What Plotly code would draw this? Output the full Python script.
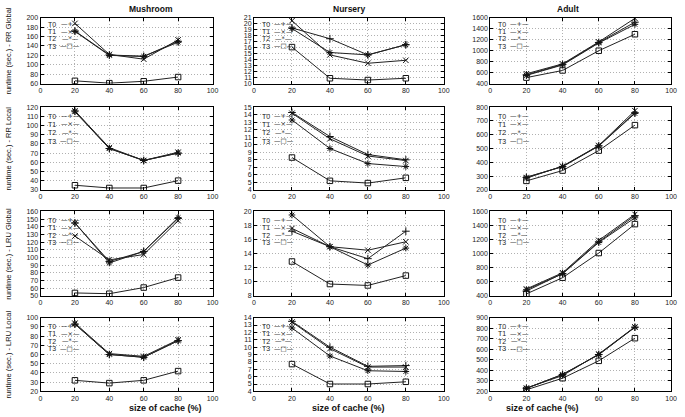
import plotly.graph_objects as go

# cache size (% of data) on every x axis
cache_size = [20, 40, 60, 80]
series_names = ["T0", "T1", "T2", "T3"]
dataset_names = ["Mushroom", "Nursery", "Adult"]
row_titles = ["runtime (sec.) - RR Global", "runtime (sec.) - RR Local",
              "runtime (sec.) - LRU Global", "runtime (sec.) - LRU Local"]

# runtimes, one list per series T0..T3
mushroom_rr_global = [[172, 121, 118, 150], [188, 122, 112, 153],
                      [171, 120, 118, 148], [66, 61, 65, 74]]
nursery_rr_global = [[19.3, 17.5, 14.8, 16.5], [20.5, 14.8, 13.4, 13.9],
                     [19.2, 15.2, 14.8, 16.5], [16.1, 10.9, 10.6, 10.9]]
adult_rr_global = [[560, 750, 1150, 1520], [580, 760, 1160, 1590],
                   [550, 740, 1140, 1480], [510, 640, 1000, 1300]]

mushroom_rr_local = [[116, 75, 62, 70], [116, 76, 62, 71],
                     [115, 75, 62, 70], [35, 32, 32, 40]]
nursery_rr_local = [[14.3, 11.1, 8.7, 8.0], [14.2, 10.8, 8.5, 7.9],
                    [13.3, 9.5, 7.5, 7.1], [8.3, 5.2, 4.9, 5.6]]
adult_rr_local = [[290, 370, 520, 760], [285, 372, 522, 775],
                  [292, 368, 518, 755], [265, 340, 485, 670]]

mushroom_lru_global = [[145, 95, 108, 151], [128, 97, 104, 148],
                       [145, 93, 108, 152], [54, 53, 61, 74]]
nursery_lru_global = [[17.2, 15.0, 13.3, 17.2], [17.6, 15.0, 14.5, 15.7],
                      [19.5, 15.0, 12.4, 14.8], [12.9, 9.7, 9.5, 10.9]]
adult_lru_global = [[470, 720, 1170, 1540], [500, 730, 1190, 1560],
                    [490, 715, 1160, 1510], [430, 660, 1010, 1420]]

mushroom_lru_local = [[93, 60, 57, 75], [94, 61, 58, 76],
                      [93, 60, 57, 75], [32, 29, 32, 42]]
nursery_lru_local = [[13.5, 10.0, 7.4, 7.5], [13.4, 9.8, 7.3, 7.3],
                     [12.6, 8.8, 6.8, 6.7], [7.7, 5.0, 5.0, 5.3]]
adult_lru_local = [[230, 360, 550, 810], [232, 350, 555, 812],
                   [228, 362, 548, 808], [215, 325, 490, 705]]

panels = [mushroom_rr_global, nursery_rr_global, adult_rr_global,
          mushroom_rr_local, nursery_rr_local, adult_rr_local,
          mushroom_lru_global, nursery_lru_global, adult_lru_global,
          mushroom_lru_local, nursery_lru_local, adult_lru_local]

# y axis (range, tick step) per panel
y_axes = [([60, 200], 20), ([10, 21], 1), ([400, 1600], 200),
          ([30, 120], 10), ([4, 15], 1), ([200, 800], 100),
          ([50, 160], 10), ([8, 20], 2), ([400, 1600], 200),
          ([20, 100], 10), ([4, 14], 1), ([200, 900], 100)]

# --- layout in pixels ---
W, H = 685, 417
col_px = [(39, 213), (255, 447), (494, 677)]
row_px = [(14, 81), (105, 189), (211, 297), (319, 394)]
key_top = [6.5, 9, 9, 9]
key_step = [7.5, 8.5, 7.5, 7.5]

symbols = ["cross-thin", "x-thin", "asterisk", "square-open"]
key_samples = ["\u2014+\u2014", "\u2014\u00d7\u2014", "\u2014*\u2014", "\u2014\u25a1\u2014"]
font = "Liberation Sans, Arial, sans-serif"

fig = go.Figure()
annotations = []

for i, panel in enumerate(panels):
    r, c = divmod(i, 3)
    n = i + 1
    xa = "x" if n == 1 else f"x{n}"
    ya = "y" if n == 1 else f"y{n}"
    for k, values in enumerate(panel):
        fig.add_trace(go.Scatter(
            x=cache_size, y=values, name=series_names[k], mode="lines+markers",
            xaxis=xa, yaxis=ya, showlegend=False,
            line=dict(color="#222", width=1),
            marker=dict(symbol=symbols[k], size=5.5, color="#111",
                        line=dict(color="#111", width=1)),
        ))

    left, right = col_px[c]
    top, bottom = row_px[r]
    yr, dt = y_axes[i]
    axis_common = dict(showline=True, linecolor="black", linewidth=1, mirror="ticks",
                       ticks="inside", ticklen=3, tickcolor="black",
                       showgrid=True, gridcolor="#b0b0b0", griddash="1px,2px", gridwidth=1,
                       zeroline=False, tickfont=dict(size=7, color="#222", family=font))
    fig.update_layout({
        ("xaxis" if n == 1 else f"xaxis{n}"): dict(
            domain=[left / W, right / W], anchor=ya, range=[0, 100],
            tick0=0, dtick=20, **axis_common),
        ("yaxis" if n == 1 else f"yaxis{n}"): dict(
            domain=[1 - bottom / H, 1 - top / H], anchor=xa, range=yr,
            tick0=yr[0], dtick=dt, **axis_common),
    })

    # gnuplot-style key, top left inside each panel
    for k in range(4):
        ky = 1 - (top + key_top[r] + key_step[r] * k) / H
        annotations.append(dict(x=(left + 6) / W, y=ky, xref="paper", yref="paper",
                                text=series_names[k], showarrow=False, xanchor="left",
                                yanchor="middle", font=dict(size=7, family=font, color="#222")))
        annotations.append(dict(x=(left + 30) / W, y=ky, xref="paper", yref="paper",
                                text=key_samples[k], showarrow=False, xanchor="center",
                                yanchor="middle", font=dict(size=6.5, family="DejaVu Sans", color="#222")))

for c, name in enumerate(dataset_names):
    left, right = col_px[c]
    annotations.append(dict(x=(left + right) / 2 / W, y=1 - 5 / H, xref="paper", yref="paper",
                            text=f"<b>{name}</b>", showarrow=False, yanchor="middle",
                            font=dict(size=8.5, family=font, color="#111")))
    annotations.append(dict(x=(left + right) / 2 / W, y=1 - 411 / H, xref="paper", yref="paper",
                            text="<b>size of cache (%)</b>", showarrow=False, yanchor="middle",
                            font=dict(size=9, family=font, color="#111")))

for r, title in enumerate(row_titles):
    top, bottom = row_px[r]
    annotations.append(dict(x=7 / W, y=1 - (top + bottom) / 2 / H, xref="paper", yref="paper",
                            text=title, showarrow=False, textangle=-90,
                            xanchor="center", yanchor="middle",
                            font=dict(size=7.5, family=font, color="#111")))

fig.update_layout(
    width=W, height=H, margin=dict(l=0, r=0, t=0, b=0),
    plot_bgcolor="white", paper_bgcolor="white",
    annotations=annotations,
)

fig.write_html("out.html", config={"displayModeBar": False},
               post_script="document.body.style.margin='0';")
